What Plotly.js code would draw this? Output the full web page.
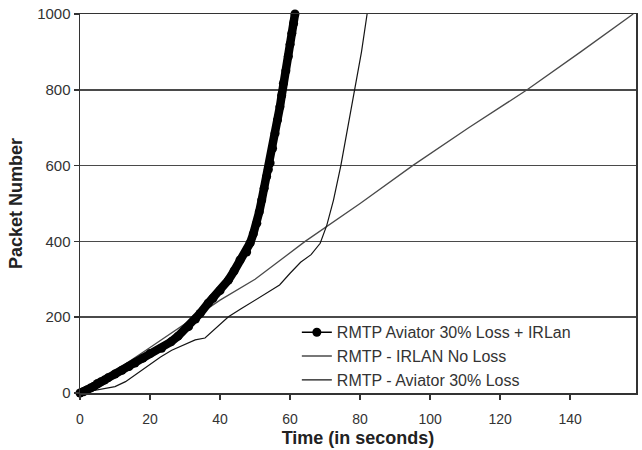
<!DOCTYPE html>
<html>
<head>
<meta charset="utf-8">
<script src="https://cdn.plot.ly/plotly-3.0.1.min.js"></script>
<style>
  html, body { margin: 0; padding: 0; background: #fff; }
  #chart { width: 642px; height: 450px; }
</style>
</head>
<body>
<div id="chart"></div>
<script>
// RMTP Aviator 30% Loss + IRLan (time s, packet number)
const irlanLossTime = [0, 1, 2, 3, 4, 5, 6, 7, 8, 10, 12, 14, 15.7, 18, 20, 23.3, 26, 28, 31, 33, 34.3, 36.6, 38, 40, 42.4, 44, 45.7, 47.6, 48.6, 49.5, 50.5, 51.2, 51.9, 52.6, 53.3, 53.8, 54.3, 55, 55.7, 56.4, 57.1, 57.6, 58.1, 58.8, 59.5, 60, 60.5, 61, 61.4];
const irlanLossPkt  = [0, 3, 8, 13, 18, 25, 30, 34, 40, 50, 60, 70, 79, 92, 104, 118, 135, 150, 175, 195, 210, 237, 250, 270, 298, 322, 351, 372, 396, 420, 448, 478, 509, 540, 571, 590, 607, 645, 685, 720, 755, 785, 817, 850, 888, 920, 949, 975, 1000];

// RMTP - IRLAN No Loss
const irlanTime = [0, 10, 20, 31, 40, 50, 64.3, 80, 95, 111, 127.7, 143, 158];
const irlanPkt  = [0, 58, 120, 189, 245, 300, 400, 500, 600, 700, 800, 900, 1000];

// RMTP - Aviator 30% Loss
const aviatorTime = [0, 5, 10, 13, 17.6, 20, 23, 26.2, 29, 32.9, 35.7, 38, 40, 42.4, 46, 50, 54, 57, 60, 63, 66, 68.6, 70.5, 72.4, 74.5, 76.5, 78.6, 80.4, 82];
const aviatorPkt  = [0, 8, 17, 30, 61, 75, 95, 113, 125, 140, 145, 165, 180, 201, 222, 245, 268, 285, 316, 345, 365, 395, 443, 509, 600, 700, 800, 900, 1000];

const xTicks = [0, 20, 40, 60, 80, 100, 120, 140];
const yTicks = [0, 200, 400, 600, 800, 1000];

const seriesNames = [
  'RMTP Aviator 30% Loss + IRLan',
  'RMTP - IRLAN No Loss',
  'RMTP - Aviator 30% Loss'
];

const traces = [
  {
    x: irlanTime, y: irlanPkt, name: seriesNames[1], type: 'scatter', mode: 'lines',
    line: { color: '#4a4a4a', width: 1.3 }, legendrank: 2
  },
  {
    x: aviatorTime, y: aviatorPkt, name: seriesNames[2], type: 'scatter', mode: 'lines',
    line: { color: '#151515', width: 1.2 }, legendrank: 3
  },
  // dense band under the markers
  {
    x: irlanLossTime, y: irlanLossPkt, type: 'scatter', mode: 'lines', showlegend: false,
    hoverinfo: 'skip', line: { color: '#000', width: 8.5 }, cliponaxis: false
  },
  {
    x: irlanLossTime, y: irlanLossPkt, name: seriesNames[0], type: 'scatter', mode: 'lines+markers',
    line: { color: '#000', width: 1.5 }, marker: { color: '#000', size: 9, symbol: 'circle' },
    cliponaxis: false, legendrank: 1
  }
];

const layout = {
  width: 642, height: 450,
  margin: { l: 80, r: 6, t: 14, b: 57 },
  paper_bgcolor: '#fff', plot_bgcolor: '#fff',
  font: { family: '"Liberation Sans", Arial, sans-serif', size: 14, color: '#333' },
  showlegend: true,
  legend: {
    x: 0.39, y: 0.205, xanchor: 'left', yanchor: 'top',
    bgcolor: 'rgba(255,255,255,0)', borderwidth: 0,
    font: { size: 16, color: '#333' }, tracegroupgap: 0
  },
  xaxis: {
    range: [0, 158.8], tickvals: xTicks, ticktext: xTicks.map(String),
    ticks: 'outside', ticklen: 5, tickcolor: '#333', tickwidth: 1.5,
    ticklabelstandoff: 8,
    showgrid: false, zeroline: false,
    showline: true, linecolor: '#333', linewidth: 1.5, mirror: true,
    tickfont: { size: 14, color: '#333' },
    title: { text: 'Time (in seconds)', font: { size: 18, color: '#222', weight: 'bold' }, standoff: 5 }
  },
  yaxis: {
    range: [0, 1000], tickvals: yTicks, ticktext: yTicks.map(String),
    ticks: 'outside', ticklen: 5, tickcolor: '#333', tickwidth: 1.5,
    showgrid: true, gridcolor: '#4a4a4a', gridwidth: 1.5, zeroline: false,
    showline: true, linecolor: '#333', linewidth: 1.5, mirror: true,
    tickfont: { size: 15, color: '#333' },
    title: { text: 'Packet Number', font: { size: 18, color: '#222', weight: 'bold' }, standoff: 10 }
  }
};

Plotly.newPlot('chart', traces, layout, { displayModeBar: false, staticPlot: true });
</script>
</body>
</html>
